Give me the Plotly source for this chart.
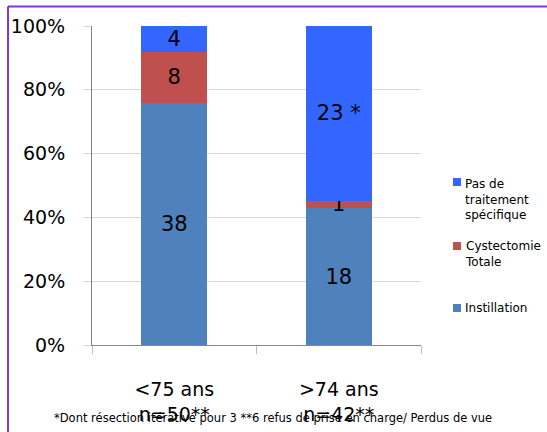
import plotly.graph_objects as go

# Age groups (two-line tick labels)
categories = ["<75 ans<br>n=50**", ">74 ans<br>n=42**"]

# Patient counts per outcome
instillation = [38, 18]
cystectomie = [8, 1]
pas_de_traitement = [4, 23]

# Text shown on each segment
instillation_labels = ["38", "18"]
cystectomie_labels = ["8", "1"]
pas_de_traitement_labels = ["4", "23 *"]

series_names = ["Instillation", "Cystectomie<br>Totale", "Pas de<br>traitement<br>spécifique"]
series_colors = ["#4F81BD", "#C0504D", "#3366FF"]

footnote = "*Dont résection itérative pour 3 **6 refus de prise en charge/ Perdus de vue"

totals = [a + b + c for a, b, c in zip(instillation, cystectomie, pas_de_traitement)]

def share(values):
    return [v / t for v, t in zip(values, totals)]

FONT = "DejaVu Sans"

fig = go.Figure()
for vals, labels, color in [
    (instillation, instillation_labels, series_colors[0]),
    (cystectomie, cystectomie_labels, series_colors[1]),
    (pas_de_traitement, pas_de_traitement_labels, series_colors[2]),
]:
    fig.add_trace(go.Bar(
        x=categories,
        y=share(vals),
        text=labels,
        textposition="inside",
        insidetextanchor="middle",
        textangle=0,
        constraintext="none",
        textfont=dict(family=FONT, size=21, color="black"),
        marker=dict(color=color, line=dict(width=0)),
        showlegend=False,
        hoverinfo="skip",
    ))

# Plot area geometry in pixels (for legend / frame placement)
W, H = 547, 432
L, R, T, B = 92, 126, 26, 87
pw, ph = W - L - R, H - T - B

def px(x):
    return (x - L) / pw

def py(y):
    return (H - B - y) / ph

shapes = []
annotations = []

# Legend drawn beside the plot: square marker + label
legend_items = [
    (series_names[2], series_colors[2], 178, 199),
    (series_names[1], series_colors[1], 242, 254),
    (series_names[0], series_colors[0], 304, 308),
]
for name, color, sq_top, text_mid in legend_items:
    shapes.append(dict(type="rect", xref="paper", yref="paper",
                       x0=px(453), x1=px(461), y0=py(sq_top + 8), y1=py(sq_top),
                       fillcolor=color, line=dict(width=0)))
    annotations.append(dict(xref="paper", yref="paper", x=px(463), y=py(text_mid),
                            xanchor="left", yanchor="middle", align="left",
                            text=name, showarrow=False,
                            font=dict(family=FONT, size=12, color="black")))

annotations.append(dict(xref="paper", yref="paper", x=px(273), y=py(418),
                        xanchor="center", yanchor="middle", text=footnote,
                        showarrow=False,
                        font=dict(family=FONT, size=11.5, color="black")))

# Purple frame along top and left edges
frame = "#7B35D8"
shapes.append(dict(type="line", xref="paper", yref="paper",
                   x0=px(8), x1=px(W), y0=py(6.5), y1=py(6.5),
                   line=dict(color=frame, width=2)))
shapes.append(dict(type="line", xref="paper", yref="paper",
                   x0=px(8), x1=px(8), y0=py(6.5), y1=py(H),
                   line=dict(color=frame, width=2)))

fig.update_layout(
    barmode="stack",
    bargap=0.6,
    width=W, height=H,
    margin=dict(l=L, r=R, t=T, b=B, pad=0, autoexpand=False),
    paper_bgcolor="white",
    plot_bgcolor="white",
    font=dict(family=FONT, color="black"),
    shapes=shapes,
    annotations=annotations,
    uniformtext=dict(mode=False),
)
fig.update_xaxes(
    type="category",
    automargin=False,
    showline=True, linecolor="#868686", linewidth=1,
    ticks="outside", ticklen=8, tickcolor="#BFBFBF",
    tickson="boundaries",
    showgrid=False,
    tickfont=dict(family=FONT, size=19, color="black"),
    ticklabelstandoff=27,
)
fig.update_yaxes(
    automargin=False,
    range=[0, 1], dtick=0.2, tickformat=".0%",
    showline=True, linecolor="#868686", linewidth=1,
    showgrid=True, gridcolor="#D9D9D9", gridwidth=1,
    zeroline=False,
    ticks="outside", ticklen=8, tickcolor="#D9D9D9",
    tickfont=dict(family=FONT, size=19, color="black"),
    ticklabelstandoff=14,
)

fig.write_html("out.html")
